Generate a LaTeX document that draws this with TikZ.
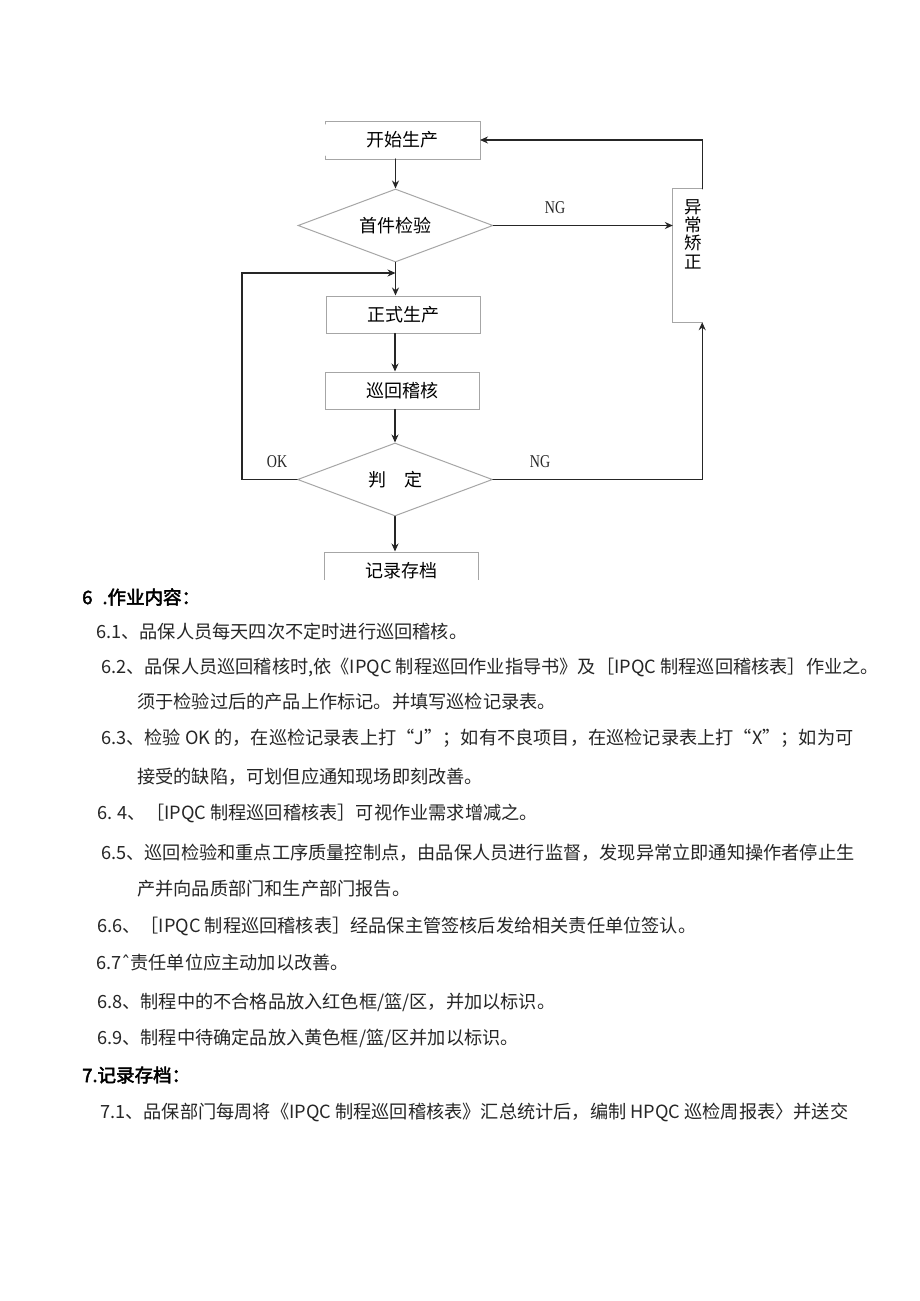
\documentclass[tikz,border=0pt]{standalone}
\usepackage{fontspec}
\setmainfont{Noto Sans CJK SC}
\newfontfamily\cjkbold[FakeBold=2.5]{Noto Sans CJK SC}
\newfontfamily\tagfont{Liberation Serif}
\newfontfamily\symfont{DejaVu Sans}
\usetikzlibrary{arrows.meta,shapes.geometric}

\begin{document}
\begin{tikzpicture}[x=1pt,y=-1pt,>={Stealth[length=8pt,width=7pt]},line cap=round,
  flow/.style={black!85,line width=1.3pt},
  edge/.style={draw=gray!70,line width=1pt},
  box/.style={edge,minimum width=154pt,minimum height=37pt,inner sep=0pt,font=\fontsize{18}{18}\selectfont},
  decide/.style={edge,diamond,aspect=2.7,minimum width=195pt,minimum height=73pt,inner sep=0pt,font=\fontsize{18}{18}\selectfont},
  tag/.style={font=\tagfont\fontsize{18}{18}\selectfont,xscale=0.78,text=black!85},
  body/.style={anchor=west,inner sep=0pt,text=black!85,font=\fontsize{18.2}{18.2}\selectfont},
  head/.style={anchor=west,inner sep=0pt,text=black,font=\cjkbold\fontsize{18.5}{18.5}\selectfont}]
\fill[white] (0,0) rectangle (920,1301);
\useasboundingbox (0,0) rectangle (920,1301);

\node[box,draw=none] (start) at (402.5,140) {开始生产};
\draw[edge] ([yshift=-3pt]start.north west) -- (start.north west) -- (start.north east)
  -- (start.south east) -- (start.south west) -- ([yshift=3pt]start.south west);
\node[decide] (check) at (395.5,225.5) {首件检验};
\node[box] (work) at (403,314.5) {正式生产};
\node[box] (patrol) at (402,390.5) {巡回稽核};
\node[decide] (judge) at (395,479.5) {判　定};
\begin{scope}
\clip (300,540) rectangle (510,579);
\node[box] (record) at (401.5,570.5) {记录存档};
\end{scope}
\node[minimum width=29pt,minimum height=133pt,inner sep=0pt] (fix) at (687.5,255.5) {};
\draw[edge] (fix.north east) -- (fix.north west) -- (fix.south west) -- (fix.south east);
\node[align=center,inner sep=0pt,font=\fontsize{17.5}{18.3}\selectfont] (fixtext) at (693,234) {异\\常\\矫\\正};

\coordinate (okturn) at (242,273);
\draw[flow,->] (start.south -| check.north) -- (check.north);
\draw[flow,->] (check.south) -- (check.south |- work.north);
\draw[flow,->] (work.south -| judge.north) -- (patrol.north -| judge.north);
\draw[flow,->] (patrol.south -| judge.north) -- (judge.north);
\draw[flow,->] (judge.south) -- (judge.south |- record.north);
\draw[flow,->] (check.east) -- (check.east -| fix.west);
\draw[flow,->] (fix.north east) |- (start.east);
\draw[flow,->] (judge.east) -| (fix.south east);
\draw[flow,->] (judge.west) -| (okturn) -- (okturn -| check.south);

\node[tag] (ng1) at (555,208) {NG};
\node[tag] (ng2) at (540,462) {NG};
\node[tag] (ok) at (277,462) {OK};

\node[head] (h6) at (82,597) {6\hspace{10pt}.作业内容：};
\node[body] (l61) at (96,632) {6.1、品保人员每天四次不定时进行巡回稽核。};
\node[body] (l62) at (101,668) {6.2、品保人员巡回稽核时,依《IPQC 制程巡回作业指导书》及［IPQC 制程巡回稽核表］作业之。};
\node[body] (l62b) at (137,702) {须于检验过后的产品上作标记。并填写巡检记录表。};
\node[body] (l63) at (101,738) {6.3、检验 OK 的，在巡检记录表上打“J”；如有不良项目，在巡检记录表上打“X”；如为可};
\node[body] (l63b) at (137,777) {接受的缺陷，可划但应通知现场即刻改善。};
\node[body] (l64) at (97,813) {6. 4、［IPQC 制程巡回稽核表］可视作业需求增减之。};
\node[body] (l65) at (101,853) {6.5、巡回检验和重点工序质量控制点，由品保人员进行监督，发现异常立即通知操作者停止生};
\node[body] (l65b) at (137,889) {产并向品质部门和生产部门报告。};
\node[body] (l66) at (97,926) {6.6、［IPQC 制程巡回稽核表］经品保主管签核后发给相关责任单位签认。};
\node[body] (l67) at (96,963) {6.7{\symfont ˆ}责任单位应主动加以改善。};
\node[body] (l68) at (97,1002) {6.8、制程中的不合格品放入红色框/篮/区，并加以标识。};
\node[body] (l69) at (97,1038) {6.9、制程中待确定品放入黄色框/篮/区并加以标识。};
\node[head] (h7) at (82,1075) {7.记录存档：};
\node[body] (l71) at (100,1112) {7.1、品保部门每周将《IPQC 制程巡回稽核表》汇总统计后，编制 HPQC 巡检周报表〉并送交};
\end{tikzpicture}
\end{document}
